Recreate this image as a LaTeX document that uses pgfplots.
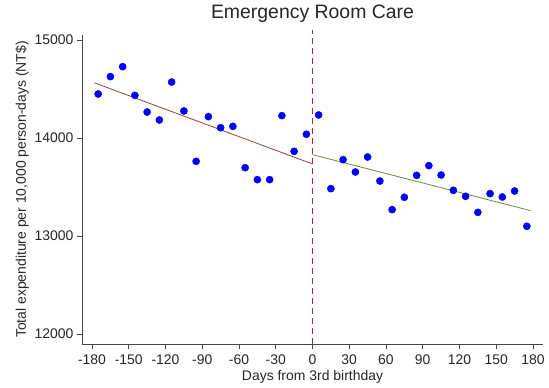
\documentclass[border=0pt]{standalone}
\usepackage{pgfplots}
\pgfplotsset{compat=1.18}
\usepackage{pgfplotstable}
\usepackage{fontspec}
\setmainfont{Liberation Sans}
\usetikzlibrary{calc}

\definecolor{fitleft}{RGB}{150,62,52}
\definecolor{fitright}{RGB}{105,140,60}
\definecolor{cutoff}{RGB}{210,20,50}
\definecolor{axgray}{RGB}{70,70,70}

% binned means, 10-day bins
\pgfplotstableread{
day  exp
-175 14449
-165 14626
-155 14728
-145 14435
-135 14265
-125 14184
-115 14571
-105 14276
-95  13762
-85  14218
-75  14105
-65  14119
-55  13697
-45  13575
-35  13575
-25  14228
-15  13864
-5   14038
}\before
\pgfplotstableread{
day  exp
5    14235
15   13483
25   13779
35   13653
45   13806
55   13561
65   13269
75   13395
85   13619
95   13718
105  13622
115  13466
125  13405
135  13241
145  13432
155  13398
165  13459
175  13099
}\after

\begin{document}
\begin{tikzpicture}
\path[use as bounding box] (-82bp,-44bp) rectangle (467bp,344bp);
\begin{axis}[
  scale only axis,
  width=461bp, height=309bp,
  xmin=-188.2, xmax=188.2,
  ymin=11898, ymax=15051,
  axis lines*=left,
  axis line style={axgray, line width=0.6pt},
  tick style={axgray, line width=0.6pt},
  tick align=outside,
  major tick length=5bp,
  xtick={-180,-150,...,180},
  ytick={12000,13000,14000,15000},
  scaled ticks=false,
  /pgf/number format/assume math mode=true,
  /pgf/number format/1000 sep={},
  tick label style={font=\fontsize{14}{16}\selectfont, text=black!85},
  xticklabel style={anchor=base, yshift=-15bp},
  yticklabel style={anchor=east},
  label style={font=\fontsize{14}{16}\selectfont, text=black!85},
  xlabel={Days from 3rd birthday},
  ylabel={Total expenditure per 10,000 person-days (NT\$)},
  xlabel style={at={($(axis description cs:0.5,0)+(0,-36bp)$)}, anchor=base},
  ylabel style={at={($(axis description cs:0,0.5)+(-56bp,0)$)}, anchor=base},
  title={Emergency Room Care},
  title style={at={($(axis description cs:0.5,1)+(0,11bp)$)}, anchor=base,
    font=\fontsize{19.5}{22}\selectfont, text=black!85},
  clip=false,
]
\addplot[only marks, mark=*, mark size=3.6bp, blue, mark options={draw=blue, fill=blue}]
  table[x=day, y=exp] {\before};
\addplot[only marks, mark=*, mark size=3.6bp, blue, mark options={draw=blue, fill=blue}]
  table[x=day, y=exp] {\after};
\addplot[fitleft, line width=0.8pt] coordinates {(-178,14563) (0,13735)};
\addplot[fitright, line width=0.8pt] coordinates {(0,13830) (178,13259)};
\addplot[cutoff, line width=0.9pt, dash pattern=on 6bp off 4bp] coordinates {(0,11898) (0,15100)};
\end{axis}
\end{tikzpicture}
\end{document}
